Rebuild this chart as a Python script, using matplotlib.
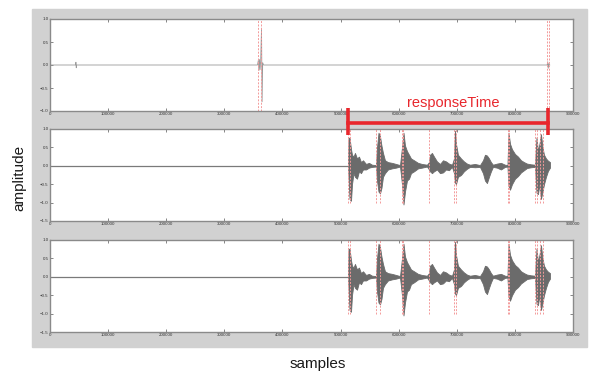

# responseTime figure: three stacked waveform panels
import matplotlib.pyplot as plt
from matplotlib.patches import Rectangle

plt.rcParams['font.family'] = ['Liberation Sans', 'DejaVu Sans']

# --- data (samples / amplitude)

# top panel: mostly flat, a few clicks
top_samples = [0, 44000, 44600, 45200, 45800, 357000, 358500, 359500, 360500,
               361500, 362500, 364000, 365000, 366000, 367500, 855500, 856500,
               857500, 858500, 860000]
top_values = [0, 0, 0.06, -0.06, 0, 0, 0.1, -0.12, 0.12, -0.1, 0.08, 0.8,
              -0.8, 0.05, 0, 0, 0.07, -0.07, 0.03, 0]

# envelope of the recorded response (middle and bottom panels are the same)
env_samples = [512800, 513700, 515400, 518000, 519700, 522300, 524800, 528300,
               531700, 535200, 538600, 543800, 548900, 554100, 561000, 562700,
               565300, 567900, 570400, 573000, 576400, 581600, 588500, 595400,
               602300, 605700, 608300, 610900, 614300, 617800, 621200, 626400,
               633300, 640100, 648700, 652200, 653900, 657300, 660800, 665900,
               671100, 676300, 681400, 686600, 691800, 695200, 696900, 698600,
               702000, 707200, 712300, 717500, 722700, 731300, 739900, 745100,
               748500, 751900, 755400, 758800, 762200, 769100, 776000, 782900,
               787200, 789000, 791600, 795000, 800200, 805300, 810500, 815700,
               820800, 827700, 834600, 837200, 839700, 842300, 844900, 847500,
               850100, 853500, 856900, 860400]
env_upper = [0, 0.75, 0.77, 0.45, 0.3, 0.25, 0.35, 0.2, 0.25, 0.1, 0.15, 0.05,
             0.08, 0.03, 0.02, 0.5, 0.9, 0.8, 0.55, 0.35, 0.15, 0.1, 0.08, 0.05,
             0.02, 0.5, 0.9, 0.55, 0.4, 0.3, 0.2, 0.15, 0.08, 0.05, 0.03, 0.1,
             0.3, 0.35, 0.25, 0.12, 0.05, 0.15, 0.12, 0.06, 0.03, 0.2, 0.95,
             0.6, 0.3, 0.2, 0.12, 0.06, 0.03, 0.05, 0.02, 0.15, 0.3, 0.28, 0.2,
             0.1, 0.03, 0.06, 0.08, 0.03, 0.02, 0.9, 0.6, 0.45, 0.32, 0.25,
             0.15, 0.1, 0.06, 0.04, 0.03, 0.77, 0.4, 0.6, 0.86, 0.5, 0.3, 0.2,
             0.14, 0.1]
env_lower = [0, -0.3, -0.9, -0.95, -0.5, -0.2, -0.3, -0.35, -0.15, -0.2, -0.1,
             -0.1, -0.05, -0.03, -0.02, -0.4, -0.7, -0.75, -0.6, -0.3, -0.2,
             -0.1, -0.07, -0.05, -0.02, -0.5, -1.05, -0.7, -0.4, -0.35, -0.2,
             -0.15, -0.07, -0.05, -0.02, -0.1, -0.15, -0.2, -0.15, -0.1, -0.2,
             -0.18, -0.1, -0.12, -0.03, -0.2, -0.45, -0.5, -0.3, -0.25, -0.15,
             -0.08, -0.03, -0.04, -0.03, -0.2, -0.4, -0.47, -0.3, -0.15, -0.03,
             -0.05, -0.1, -0.03, -0.02, -0.55, -0.65, -0.5, -0.35, -0.28, -0.18,
             -0.12, -0.06, -0.04, -0.03, -0.73, -0.77, -0.5, -0.9, -0.7, -0.5,
             -0.3, -0.14, -0.05]

# detected onsets (red dashed markers)
top_onsets = [358500, 363000, 856000, 858000]
onsets = [513300, 516200, 561500, 568400, 605700, 608000, 651700, 695700,
          698100, 788100, 790400, 835100, 838600, 843700, 848900]

# responseTime bracket
response_start = 513000
response_end = 857000
label_pos = 693500

x_ticks = [0, 100000, 200000, 300000, 400000, 500000, 600000, 700000, 800000, 900000]

# --- figure
fig = plt.figure(figsize=(5.92, 3.72), dpi=100, facecolor='white')
fig.patches.append(Rectangle((32/592, 1-347/372), 555/592, 338/372,
                             transform=fig.transFigure, color='#d1d1d1', zorder=-10))

left, width, height = 50/592, 523/592, 92/372
ax1 = fig.add_axes([left, 1-111/372, width, height])
ax2 = fig.add_axes([left, 1-221/372, width, height])
ax3 = fig.add_axes([left, 1-332/372, width, height])

for ax in (ax1, ax2, ax3):
    ax.set_xlim(0, 900000)
    ax.set_xticks(x_ticks)
    ax.tick_params(direction='in', length=2, width=0.5, labelsize=3.2,
                   top=True, right=True, pad=1, colors='#555555', labelcolor='#333333')
    for s in ax.spines.values():
        s.set_color('#8a8a8a')
        s.set_linewidth(1.0)

dash_col = '#f39a9a'

# top panel
ax1.set_ylim(-1.0, 1.0)
ax1.set_yticks([-1.0, -0.5, 0.0, 0.5, 1.0])
ax1.plot(top_samples, top_values, color='#9a9a9a', lw=0.6)
ax1.vlines(top_onsets, -1, 1, colors=dash_col, linestyles=(0, (2, 1.5)), lw=0.7)

# middle and bottom panels
for ax in (ax2, ax3):
    ax.set_ylim(-1.5, 1.0)
    ax.set_yticks([-1.5, -1.0, -0.5, 0.0, 0.5, 1.0])
    ax.plot([0, env_samples[0]], [0, 0], color='#7a7a7a', lw=0.9)
    ax.fill_between(env_samples, env_lower, env_upper, color='#6b6b6b', lw=0.6,
                    edgecolor='#6b6b6b')
    ax.vlines(onsets, -1, 1, colors=dash_col, linestyles=(0, (2, 1.5)), lw=0.7)

# responseTime bracket over the middle panel
red = '#e8262c'
ax2.plot([response_start, response_end], [1.17, 1.17], color=red, lw=2.6,
         clip_on=False, zorder=5)
ax2.vlines([response_start, response_end], 0.84, 1.58, colors=red, lw=2.6,
           clip_on=False, zorder=5)
ax2.text(label_pos, 1.72, 'responseTime', color=red,
         fontsize=10.5, ha='center', va='center', clip_on=False)

fig.text(19/592, 1-178/372, 'amplitude', rotation=90, fontsize=11,
         ha='center', va='center', color='#1a1a1a')
fig.text(318/592, 1-364/372, 'samples', fontsize=11, ha='center', va='center',
         color='#1a1a1a')

fig.savefig('out.png', dpi=100, facecolor='white')
